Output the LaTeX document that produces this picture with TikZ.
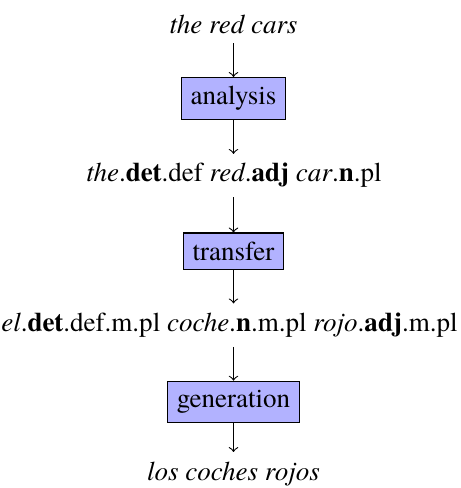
\documentclass[tikz,border=0pt]{standalone}
\usepackage{fontspec}
\setmainfont{texgyretermes}[
  Extension=.otf,
  UprightFont=*-regular,
  BoldFont=*-bold,
  ItalicFont=*-italic,
  BoldItalicFont=*-bolditalic]
\usetikzlibrary{positioning}

\tikzset{
  stage/.style={draw, fill=blue!30, anchor=base},
  form/.style={anchor=base},
}

\begin{document}
\begin{tikzpicture}[x=0.37pt, y=-0.37pt]
  \useasboundingbox (0,0) rectangle (460,488);
  % Forms and stages
  \node[form] (src) at (233.5,33.5) {\emph{the red cars}};
  \node[stage] (analysis) at (233.5,105) {analysis};
  \node[form] (srcrep) at (234,182) {\emph{the}.\textbf{det}.def \emph{red}.\textbf{adj} \emph{car}.\textbf{n}.pl};
  \node[stage] (transfer) at (233.5,260.5) {transfer};
  \node[form] (tgtrep) at (229.5,331.5) {\emph{el}.\textbf{det}.def.m.pl \emph{coche}.\textbf{n}.m.pl \emph{rojo}.\textbf{adj}.m.pl};
  \node[stage] (generation) at (233.5,407.5) {generation};
  \node[form] (tgt) at (233.5,480) {\emph{los coches rojos}};
  % Arrows
  \draw[->] (src) -- (analysis);
  \draw[->] (analysis) -- (srcrep.north -| analysis);
  \draw[->] (srcrep.south -| transfer) -- (transfer);
  \draw[->] (transfer) -- (tgtrep.north -| transfer);
  \draw[->] (tgtrep.south -| generation) -- (generation);
  \draw[->] (generation) -- (tgt);
\end{tikzpicture}
\end{document}
